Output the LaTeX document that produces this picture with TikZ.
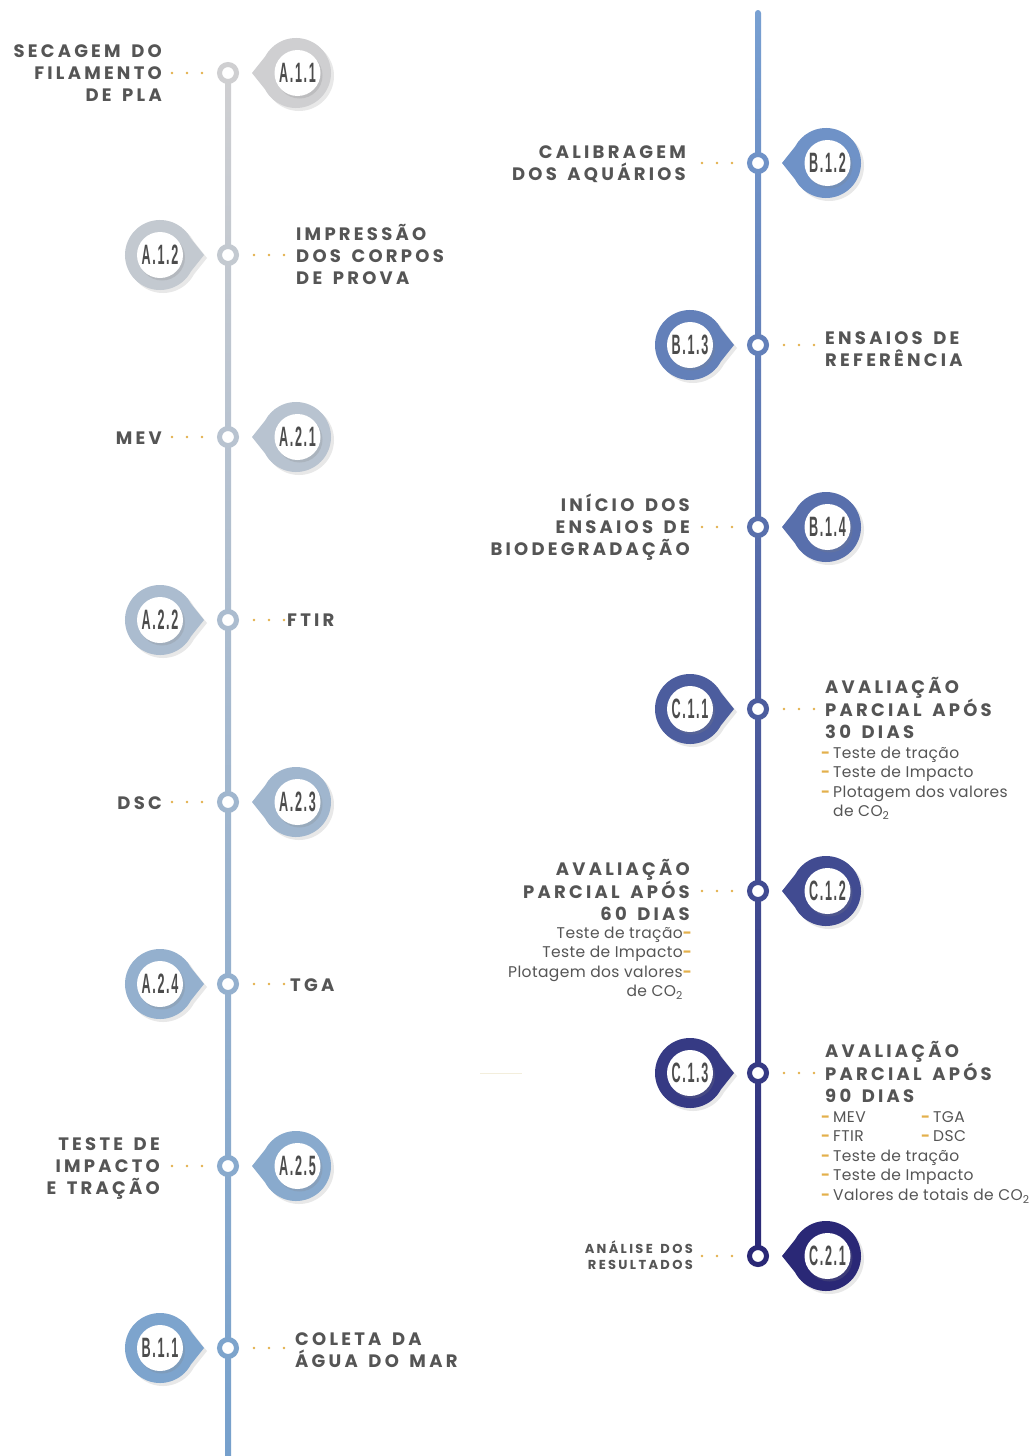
\documentclass[tikz,border=0pt]{standalone}
\usepackage{fontspec}
\setmainfont{Poppins}
\newfontfamily\headfont[LetterSpace=18,WordSpace=1.4]{Poppins}
\newfontfamily\smallheadfont[LetterSpace=18,WordSpace=1.5]{Poppins}
\newfontfamily\bodyfont[LetterSpace=2.5]{Poppins}
\newfontfamily\badgefont[FakeStretch=0.45,LetterSpace=6]{Liberation Sans}
\usetikzlibrary{shadows,calc}
\definecolor{txt}{HTML}{555555}
\definecolor{gold}{HTML}{E3B04B}
\definecolor{LT}{HTML}{CFCFD1}
\definecolor{LB}{HTML}{76A0CC}
\definecolor{RT}{HTML}{78A0D2}
\definecolor{RB}{HTML}{2A2876}
\definecolor{faintline}{HTML}{F3EEDC}
\newcommand\gd{\makebox[12pt][l]{\textcolor{gold}{\bfseries-}}}
\newcommand\gdr{\makebox[9pt][r]{\textcolor{gold}{\bfseries-}}}
\newcommand\cotwo{CO\textsubscript{2}}
\tikzset{
  head/.style={font=\headfont\bfseries\fontsize{18}{22}\selectfont, text=txt, inner sep=0pt,
    execute at begin node=\strut, execute at end node=\strut},
  smallhead/.style={font=\smallheadfont\bfseries\fontsize{13}{16}\selectfont, text=txt, inner sep=0pt,
    execute at begin node=\strut, execute at end node=\strut},
  body/.style={font=\bodyfont\fontsize{15.5}{19.5}\selectfont, text=txt, inner sep=0pt,
    execute at begin node=\strut, execute at end node=\strut},
  tlpin/.style={circle, draw=#1, line width=5pt, fill=white, minimum size=17pt, inner sep=0pt},
  gdots/.style={draw=gold, line width=2.8pt, line cap=round, dash pattern=on 0pt off 15pt, shorten <=15pt},
  btxt/.style={circle, fill=white, minimum size=46pt, inner sep=0pt,
    font=\badgefont\bfseries\fontsize{28}{28}\selectfont, text=txt!90!black,
    drop shadow={opacity=0.22, shadow xshift=2pt, shadow yshift=-2.5pt}},
  bshadow/.style={drop shadow={opacity=0.18, shadow xshift=3pt, shadow yshift=-3pt}}
}
% badge to the right of the line, pointer to the left
\newcommand\badgeR[5]{%
  \fill[#4, bshadow] (#2-44,#3) -- ($(#2,#3)+(152:35)$) arc[start angle=152,end angle=-152,radius=35] -- cycle;
  \node[btxt] (#1) at (#2+1.5,#3) {#5};}
% badge to the left of the line, pointer to the right
\newcommand\badgeL[5]{%
  \fill[#4, bshadow] (#2+44,#3) -- ($(#2,#3)+(28:35)$) arc[start angle=28,end angle=332,radius=35] -- cycle;
  \node[btxt] (#1) at (#2,#3) {#5};}

\begin{document}
\begin{tikzpicture}[x=1pt,y=-1pt]
\useasboundingbox (0,0) rectangle (1035,1456);
\fill[white] (0,0) rectangle (1035,1456);

% main lines
\shade[top color=LT, bottom color=LB] (225,73) rectangle (231,1456);
\shade[top color=RT, bottom color=RB, rounded corners=3pt] (755,10) rectangle (761,1256);
\draw[faintline, line width=1pt] (480,1073) -- (522,1073);

% ---- left line pins
\node[tlpin=LB!0!LT]  (pa11) at (228,73) {};
\node[tlpin=LB!13!LT] (pa12) at (228,255) {};
\node[tlpin=LB!26!LT] (pa21) at (228,437) {};
\node[tlpin=LB!40!LT] (pa22) at (228,620) {};
\node[tlpin=LB!53!LT] (pa23) at (228,802) {};
\node[tlpin=LB!66!LT] (pa24) at (228,984) {};
\node[tlpin=LB!79!LT] (pa25) at (228,1166) {};
\node[tlpin=LB!92!LT] (pb11) at (228,1348) {};
% ---- right line pins
\node[tlpin=RB!12!RT] (pb12) at (758,163) {};
\node[tlpin=RB!27!RT] (pb13) at (758,345) {};
\node[tlpin=RB!41!RT] (pb14) at (758,527) {};
\node[tlpin=RB!56!RT] (pc11) at (758,709) {};
\node[tlpin=RB!71!RT] (pc12) at (758,891) {};
\node[tlpin=RB!85!RT] (pc13) at (758,1073) {};
\node[tlpin=RB!100!RT] (pc21) at (758,1256) {};

% dot ends
\coordinate (da11) at (170,73);
\coordinate (da12) at (286,255);
\coordinate (da21) at (170,437);
\coordinate (da22) at (286,620);
\coordinate (da23) at (170,802);
\coordinate (da24) at (286,984);
\coordinate (da25) at (170,1166);
\coordinate (db11) at (286,1348);
\coordinate (db12) at (700,163);
\coordinate (db13) at (816,345);
\coordinate (db14) at (700,527);
\coordinate (dc11) at (816,709);
\coordinate (dc12) at (700,891);
\coordinate (dc13) at (816,1073);
\coordinate (dc21) at (700,1256);
\foreach \p/\d in {pa11/da11,pa12/da12,pa21/da21,pa22/da22,pa23/da23,pa24/da24,pa25/da25,pb11/db11,
                   pb12/db12,pb13/db13,pb14/db14,pc11/dc11,pc12/dc12,pc13/dc13,pc21/dc21}
  \draw[gdots] (\p) -- (\d);

% ---- badges
\badgeR{a11}{296}{73}{LB!0!LT}{A.1.1}
\badgeL{a12}{160}{255}{LB!13!LT}{A.1.2}
\badgeR{a21}{296}{437}{LB!26!LT}{A.2.1}
\badgeL{a22}{160}{620}{LB!40!LT}{A.2.2}
\badgeR{a23}{296}{802}{LB!53!LT}{A.2.3}
\badgeL{a24}{160}{984}{LB!66!LT}{A.2.4}
\badgeR{a25}{296}{1166}{LB!79!LT}{A.2.5}
\badgeL{b11}{160}{1348}{LB!92!LT}{B.1.1}
\badgeR{b12}{826}{163}{RB!12!RT}{B.1.2}
\badgeL{b13}{690}{345}{RB!27!RT}{B.1.3}
\badgeR{b14}{826}{527}{RB!41!RT}{B.1.4}
\badgeL{c11}{690}{709}{RB!56!RT}{C.1.1}
\badgeR{c12}{826}{891}{RB!71!RT}{C.1.2}
\badgeL{c13}{690}{1073}{RB!85!RT}{C.1.3}
\badgeR{c21}{826}{1256}{RB!100!RT}{C.2.1}

% ---- texts, left line
\node[head, anchor=east, align=right] (ta11) at (162,76) {SECAGEM DO\\FILAMENTO\\DE PLA};
\node[head, anchor=west, align=left] (ta12) at (296,258) {IMPRESSÃO\\DOS CORPOS\\DE PROVA};
\node[head, anchor=east] (ta21) at (162,440) {MEV};
\node[head, anchor=west] (ta22) at (287,622) {FTIR};
\node[head, anchor=east] (ta23) at (162,805) {DSC};
\node[head, anchor=west] (ta24) at (290,987) {TGA};
\node[head, anchor=east, align=right] (ta25) at (160,1169.5) {TESTE DE\\IMPACTO\\E TRAÇÃO};
\node[head, anchor=west, align=left] (tb11) at (295,1353.5) {COLETA DA\\ÁGUA DO MAR};

% ---- texts, right line
\node[head, anchor=east, align=right] (tb12) at (686,166.5) {CALIBRAGEM\\DOS AQUÁRIOS};
\node[head, anchor=west, align=left] (tb13) at (825,352.5) {ENSAIOS DE\\REFERÊNCIA};
\node[head, anchor=east, align=right] (tb14) at (690,528.5) {INÍCIO DOS\\ENSAIOS DE\\BIODEGRADAÇÃO};

\node[head, anchor=west, align=left] (tc11) at (825,711) {AVALIAÇÃO\\PARCIAL APÓS\\30 DIAS};
\node[body, anchor=north west, align=left] (tc11b) at (821,746.5)
  {\gd Teste de tração\\\gd Teste de Impacto\\\gd Plotagem dos valores\\\hspace*{12pt}de \cotwo};

\node[head, anchor=east, align=right] (tc12) at (690,893) {AVALIAÇÃO\\PARCIAL APÓS\\60 DIAS};
\node[body, anchor=north east, align=right] (tc12b) at (692,926.5)
  {Teste de tração\gdr\\Teste de Impacto\gdr\\Plotagem dos valores\gdr\\de \cotwo\hspace*{9pt}};

\node[head, anchor=west, align=left] (tc13) at (825,1075) {AVALIAÇÃO\\PARCIAL APÓS\\90 DIAS};
\node[body, anchor=north west, align=left] (tc13b) at (821,1111)
  {\makebox[100pt][l]{\gd MEV}\gd TGA\\\makebox[100pt][l]{\gd FTIR}\gd DSC\\\gd Teste de tração\\\gd Teste de Impacto\\\gd Valores de totais de \cotwo};

\node[smallhead, anchor=east, align=right] (tc21) at (693,1257.5) {ANÁLISE DOS\\RESULTADOS};
\end{tikzpicture}
\end{document}
